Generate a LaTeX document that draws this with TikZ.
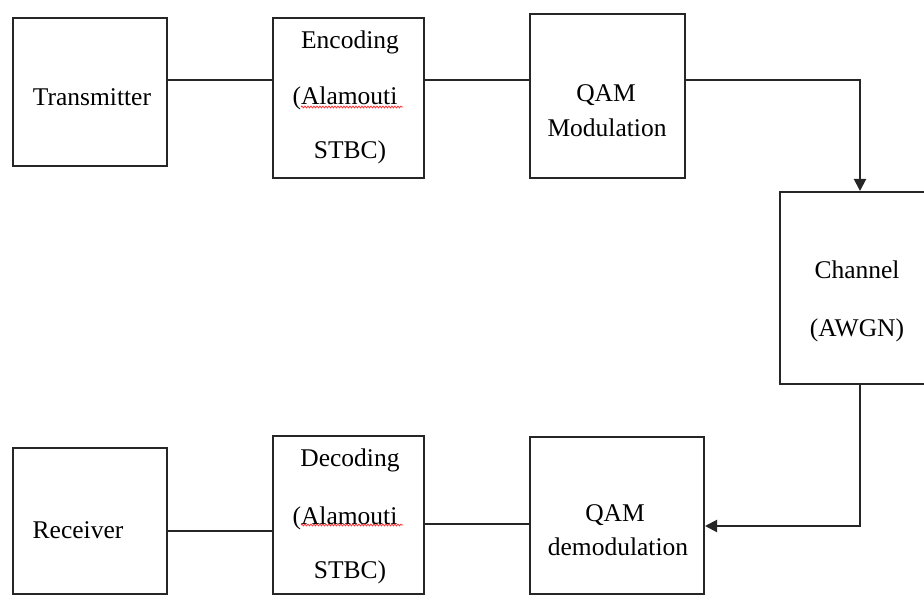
\documentclass[tikz,border=0pt]{standalone}
\usepackage{fontspec}
\setmainfont{Liberation Serif}
\usetikzlibrary{arrows.meta,decorations.pathmorphing}
\begin{document}
\begin{tikzpicture}[x=1pt,y=-1pt,
  box/.style={draw=black!85, line width=2pt, inner sep=0pt},
  txt/.style={font=\fontsize{25.5}{30}\selectfont, inner sep=0pt, anchor=center},
  conn/.style={draw=black!85, line width=2pt},
  arr/.style={conn, -{Triangle[width=12pt,length=12pt]}},
  squig/.style={draw=red!80, line width=0.8pt, decorate, decoration={snake, amplitude=0.9pt, segment length=3pt}}]
\useasboundingbox (0,0) rectangle (924,596);
\clip (0,0) rectangle (924,596);
% boxes
\node[box, minimum width=154pt, minimum height=148pt] (tx) at (90,92) {};
\node[box, minimum width=151pt, minimum height=160pt] (enc) at (348.5,98) {};
\node[box, minimum width=155pt, minimum height=164pt] (qam) at (607.5,96) {};
\node[box, minimum width=160pt, minimum height=192pt] (ch) at (860,288) {};
\node[box, minimum width=154pt, minimum height=146pt] (rx) at (90,521) {};
\node[box, minimum width=151pt, minimum height=158pt] (dec) at (348.5,515) {};
\node[box, minimum width=174pt, minimum height=157pt] (qdem) at (617,515.5) {};
% texts
\node[txt] (ttx) at (92,97) {Transmitter};
\node[txt] (tenc1) at (350,42) {Encoding};
\node[txt] (tenc2) at (345,98) {(Alamouti};
\node[txt] (tenc3) at (350,152) {STBC)};
\node[txt] (tqam1) at (606,95) {QAM};
\node[txt] (tqam2) at (607,128) {Modulation};
\node[txt] (tch1) at (857,270) {Channel};
\node[txt] (tch2) at (857,330) {(AWGN)};
\node[txt] (trx) at (78,530) {Receiver};
\node[txt] (tdec1) at (350,460) {Decoding};
\node[txt] (tdec2) at (345,518) {(Alamouti};
\node[txt] (tdec3) at (350,572) {STBC)};
\node[txt] (tqd1) at (615,515) {QAM};
\node[txt] (tqd2) at (618,547) {demodulation};
% spell-check squiggles
\draw[squig] (301,107) -- (403,107);
\draw[squig] (301,525) -- (403,525);
% connectors
\draw[conn] ([yshift=12pt]tx.east) coordinate (p1) -- (p1 -| enc.west);
\draw[conn] ([yshift=18pt]enc.east) coordinate (p2) -- (p2 -| qam.west);
\draw[arr] ([yshift=16pt]qam.east) -| (ch.north);
\draw[arr] (ch.south) |- ([yshift=-10.5pt]qdem.east);
\draw[conn] ([yshift=-8.5pt]qdem.west) coordinate (p3) -- (p3 -| dec.east);
\draw[conn] ([yshift=-16pt]dec.west) coordinate (p4) -- (p4 -| rx.east);
\end{tikzpicture}
\end{document}
